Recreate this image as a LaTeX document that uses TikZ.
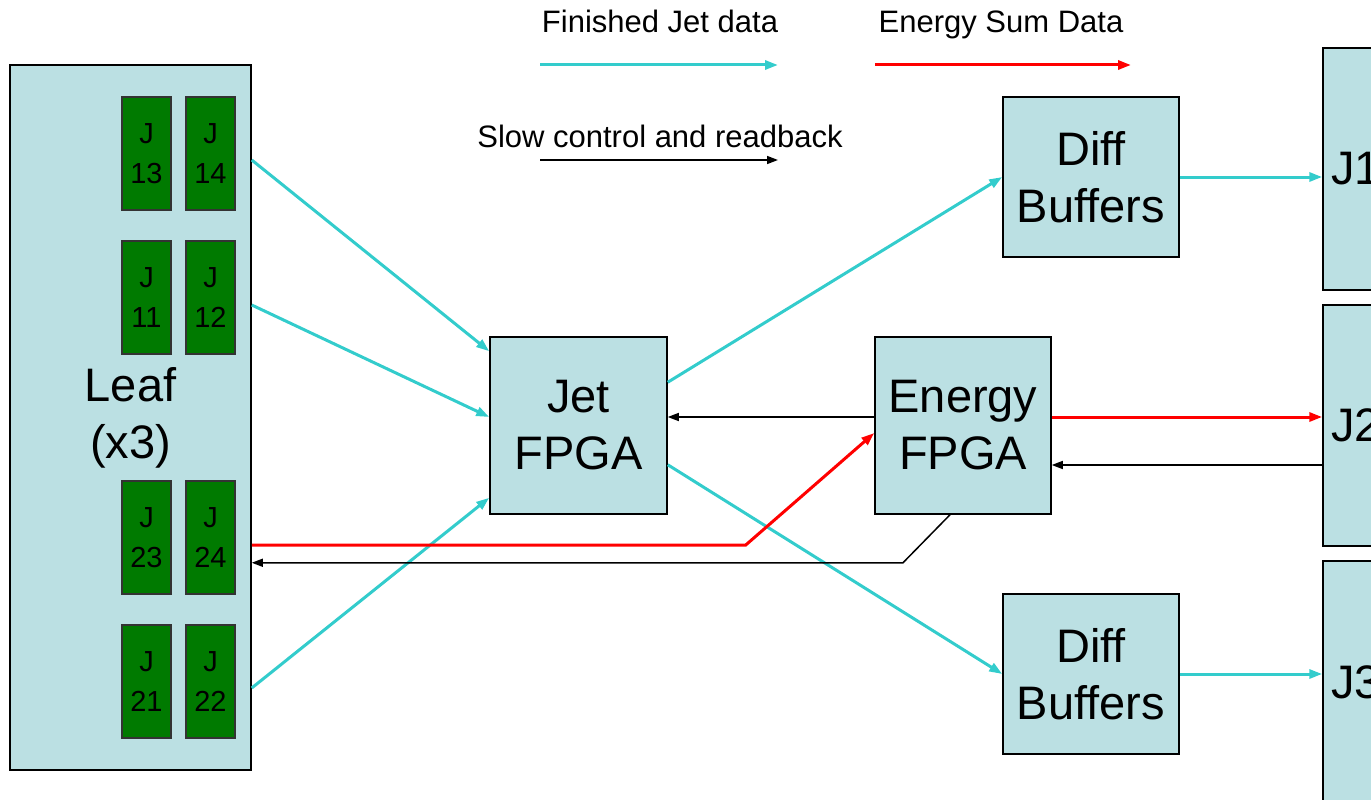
\documentclass[tikz,border=0pt]{standalone}
\usepackage{fontspec}
\setmainfont{Liberation Sans}
\usetikzlibrary{arrows.meta}

\definecolor{paleblue}{HTML}{BBE0E3}
\definecolor{chipgreen}{HTML}{007A00}
\definecolor{jetcyan}{HTML}{33CCCC}

\newcommand{\bigtext}{\fontsize{47}{57}\selectfont}
\newcommand{\chiptext}{\fontsize{29}{40}\selectfont}
\newcommand{\legtext}{\fontsize{31}{36}\selectfont}

\tikzset{
	board/.style={draw=black, line width=1.5pt, fill=paleblue, font=\bigtext, align=center, inner sep=0pt},
	chip/.style={draw=black!80, line width=1.2pt, fill=chipgreen, minimum width=49pt, minimum height=113pt, font=\chiptext, align=center, inner sep=0pt},
	legend/.style={anchor=base, font=\legtext},
	jetlink/.style={draw=jetcyan, line width=3pt, -{Triangle[length=13pt,width=9pt]}},
	sumlink/.style={draw=red, line width=3pt, -{Triangle[length=13pt,width=9pt]}},
	ctrl/.style={draw=black, line width=1.5pt, -{Triangle[length=11pt,width=8pt]}}
}

\begin{document}
\begin{tikzpicture}[x=1pt, y=-1pt]
	\useasboundingbox (0,0) rectangle (1371,800);
	\clip (0,0) rectangle (1371,800);

	% legend
	\node (legjet) 	[legend] at (660,33) 	{Finished Jet data};
	\node (legsum) 	[legend] at (1001,33) 	{Energy Sum Data};
	\node (legctrl) [legend] at (660,147) 	{Slow control and readback};
	\coordinate (lj1) at (540,65);		\coordinate (lj2) at (778,65);
	\coordinate (ls1) at (875,65);		\coordinate (ls2) at (1131,65);
	\coordinate (lc1) at (540,160);		\coordinate (lc2) at (778,160);
	\draw[jetlink] 	(lj1) -- (lj2);
	\draw[sumlink] 	(ls1) -- (ls2);
	\draw[ctrl] 		(lc1) -- (lc2);

	% boards
	\node (leaf) 	[board, minimum width=241pt, minimum height=705pt] 	at (130.5,417.5) 	{Leaf\\(x3)};
	\node (j13) 	[chip] at (146.5,153.5) {J\\13};
	\node (j14) 	[chip] at (210.5,153.5) {J\\14};
	\node (j11) 	[chip] at (146.5,297.5) {J\\11};
	\node (j12) 	[chip] at (210.5,297.5) {J\\12};
	\node (j23) 	[chip] at (146.5,537.5) {J\\23};
	\node (j24) 	[chip] at (210.5,537.5) {J\\24};
	\node (j21) 	[chip] at (146.5,681.5) {J\\21};
	\node (j22) 	[chip] at (210.5,681.5) {J\\22};

	\node (jet) 		[board, minimum width=177pt, minimum height=177pt] 	at (578.5,425.5) 	{Jet\\FPGA};
	\node (energy) 	[board, minimum width=176pt, minimum height=177pt] 	at (963,425.5) 		{Energy\\FPGA};
	\node (diffa) 	[board, minimum width=176pt, minimum height=160pt] 	at (1091,177) 		{Diff\\Buffers};
	\node (diffb) 	[board, minimum width=176pt, minimum height=160pt] 	at (1091,674) 		{Diff\\Buffers};

	\node (jone) 		[board, minimum height=242pt, text width=128pt, inner xsep=8pt, align=left] 	at (1395,169) 	{J1};
	\node (jtwo) 		[board, minimum height=241pt, text width=128pt, inner xsep=8pt, align=left] 	at (1395,425.5) {J2};
	\node (jthree) 	[board, minimum height=242pt, text width=128pt, inner xsep=8pt, align=left] 	at (1395,682) 	{J3};

	% jet data
	\draw[jetlink] 	([yshift=-6.5pt]j14.east -| leaf.east) 	-- ([yshift=-15pt]jet.north west);
	\draw[jetlink] 	([yshift=-7.5pt]j12.east -| leaf.east) 	-- ([yshift=8.5pt]jet.west);
	\draw[jetlink] 	([yshift=-6.5pt]j22.east -| leaf.east) 	-- ([yshift=17pt]jet.south west);
	\draw[jetlink] 	([yshift=-46pt]jet.north east) 					-- (diffa.west);
	\draw[jetlink] 	([yshift=50pt]jet.south east) 					-- (diffb.west);
	\draw[jetlink] 	(diffa.east) 		-- (diffa.east -| jone.west);
	\draw[jetlink] 	(diffb.east) 		-- (diffb.east -| jthree.west);

	% energy sums
	\draw[sumlink] 	([yshift=-7.5pt]j24.east -| leaf.east) 	-- ++(494,0) -- ([yshift=-7.5pt]energy.west);
	\draw[sumlink] 	([yshift=8.5pt]energy.east) 	-- ([yshift=8.5pt]energy.east -| jtwo.west);

	% slow control
	\draw[ctrl] 		([yshift=8.5pt]energy.west) 	-- ([yshift=8.5pt]jet.east);
	\draw[ctrl] 		([yshift=-39.5pt]energy.east -| jtwo.west) 	-- ([yshift=-39.5pt]energy.east);
	\draw[ctrl] 		([xshift=-13pt]energy.south) 	-- ++(-47,48) coordinate (kink) -- (kink -| leaf.east);
\end{tikzpicture}
\end{document}
